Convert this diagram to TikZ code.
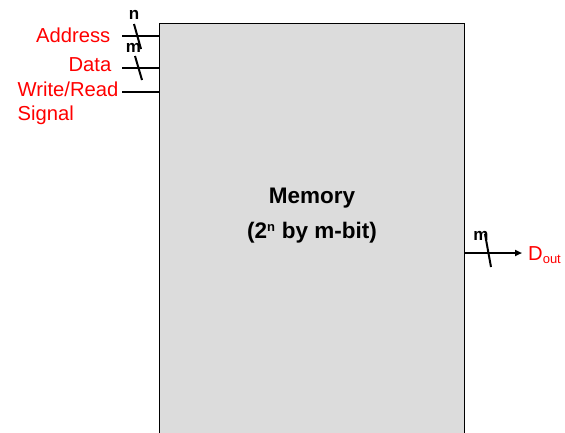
\documentclass[tikz,border=0pt]{standalone}
\usepackage{fontspec}
\setmainfont{Liberation Sans}
\usetikzlibrary{arrows.meta}
\definecolor{memgray}{RGB}{220,220,220}
\begin{document}
\begin{tikzpicture}[x=1pt,y=-1pt,
  lbl/.style={text=red,font=\fontsize{20.2}{24}\selectfont,inner sep=0pt},
  bus/.style={line width=2pt,black},
  slash/.style={line width=2pt,black},
  buslbl/.style={font=\bfseries\fontsize{17}{17}\selectfont,inner sep=0pt},
  membox/.style={draw=black,line width=1.2pt,fill=memgray,minimum width=305pt,minimum height=440pt,inner sep=0pt}]
\useasboundingbox (0,0) rectangle (565,432);
\node[membox] (mem) at (312,243.5) {};
\node[font=\bfseries\fontsize{22.5}{35}\selectfont,align=center] (memtxt) at (312,216) {Memory\\(2\textsuperscript{\fontsize{13}{13}\selectfont n} by m-bit)};
% inputs
\coordinate (aL) at (122,36);
\coordinate (dL) at (122,68);
\coordinate (wL) at (122,92);
\coordinate (aR) at (mem.west |- aL);
\coordinate (dR) at (mem.west |- dL);
\coordinate (wR) at (mem.west |- wL);
\draw[bus] (aL) -- (aR);
\draw[bus] (dL) -- (dR);
\draw[bus] (wL) -- (wR);
\coordinate (s1a) at (134,24);
\coordinate (s1b) at (141,49);
\coordinate (s2a) at (135,56);
\coordinate (s2b) at (142,80);
\draw[slash] (s1a) -- (s1b);
\draw[slash] (s2a) -- (s2b);
\node[buslbl] (nl) at (134,15) {n};
\node[buslbl] (ml) at (133.5,48) {m};
\node[lbl,anchor=east] (addr) at (110.5,35) {Address};
\node[lbl,anchor=east] (data) at (111.5,65) {Data};
\node[lbl,anchor=north west,align=left] (wr) at (17.5,82) {Write/Read\\Signal};
% output
\coordinate (oL) at (mem.east |- 0,253);
\coordinate (oR) at (522,253);
\draw[bus,-{Triangle[length=7pt,width=6pt]}] (oL) -- (oR);
\coordinate (s3a) at (485,234);
\coordinate (s3b) at (491,267);
\draw[slash] (s3a) -- (s3b);
\node[buslbl] (ml2) at (481,236) {m};
\node[lbl,anchor=west] (dout) at (528,255) {D\textsubscript{\fontsize{13}{13}\selectfont out}};
\end{tikzpicture}
\end{document}
